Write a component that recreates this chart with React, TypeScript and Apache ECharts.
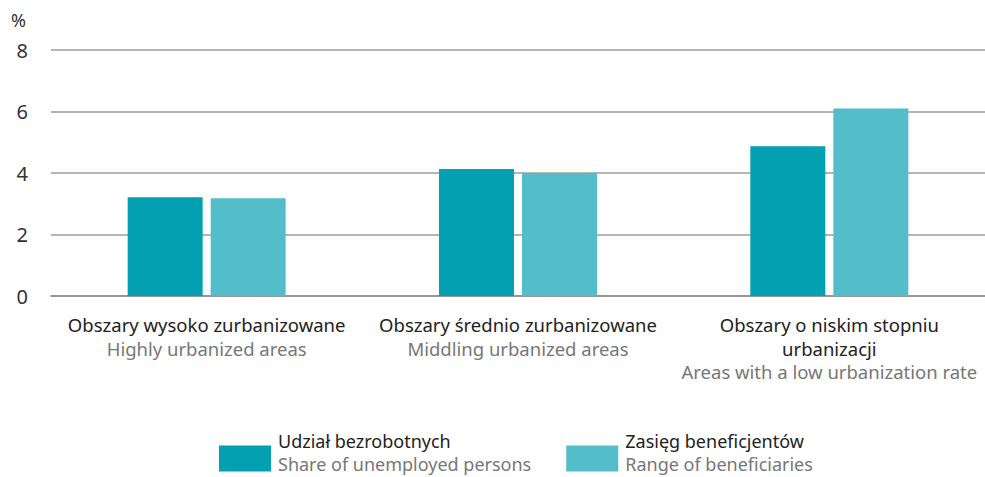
import React, { useEffect, useRef } from "react";
import * as echarts from "echarts";

const categoriesPl = ["Obszary wysoko zurbanizowane", "Obszary średnio zurbanizowane", "Obszary o niskim stopniu\nurbanizacji"];
const categoriesEn = ["Highly urbanized areas", "Middling urbanized areas", "Areas with a low urbanization rate"];
const seriesNamesPl = ["Udział bezrobotnych", "Zasięg beneficjentów"];
const seriesNamesEn = ["Share of unemployed persons", "Range of beneficiaries"];
const shareUnemployed = [3.21, 4.13, 4.87];
const rangeBeneficiaries = [3.18, 4.0, 6.1];
const yTicks = [0, 2, 4, 6, 8];

const FONT = "'Noto Sans', 'Open Sans', sans-serif";

export default function App() {
  const ref = useRef<HTMLDivElement>(null);
  useEffect(() => {
    if (!ref.current) return;
    const chart = echarts.init(ref.current, undefined, { renderer: "svg" });
    const cats = categoriesPl.map((c, i) => c + "||" + categoriesEn[i]);
    chart.setOption({
      animation: false,
      textStyle: { fontFamily: FONT },
      grid: { left: 51, right: -2, top: 50, bottom: 181, containLabel: false },
      graphic: [
        { type: "text", left: 11, top: 11, style: { text: "%", fontSize: 18, fill: "#333", fontFamily: FONT } },
      ],
      legend: {
        left: 219,
        top: 432,
        padding: 0,
        itemWidth: 52,
        itemHeight: 26,
        itemGap: 35,
        icon: "rect",
        data: seriesNamesPl,
        formatter: (name: string) => {
          const i = seriesNamesPl.indexOf(name);
          return "{a|" + name + "}\n{b|" + seriesNamesEn[i] + "}";
        },
        textStyle: {
          padding: [0, 0, 12, 2],
          rich: {
            a: { fontSize: 18, color: "#222", lineHeight: 23, fontFamily: FONT },
            b: { fontSize: 18, color: "#777", lineHeight: 23, fontFamily: FONT },
          },
        },
      },
      xAxis: {
        type: "category",
        data: cats,
        axisTick: { show: false },
        axisLine: { show: true, lineStyle: { color: "#8c8c8c", width: 1.5 } },
        axisLabel: {
          margin: 17,
          interval: 0,
          formatter: (v: string) => {
            const [pl, en] = v.split("||");
            const plLines = pl.split("\n").map((l) => "{a|" + l + "}").join("\n");
            return plLines + "\n{b|" + en + "}";
          },
          rich: {
            a: { fontSize: 18.5, color: "#222", lineHeight: 23.5, fontFamily: FONT },
            b: { fontSize: 18.5, color: "#777", lineHeight: 23.5, fontFamily: FONT },
          },
        },
      },
      yAxis: {
        type: "value",
        min: yTicks[0],
        max: yTicks[yTicks.length - 1],
        interval: 2,
        axisLine: { show: false },
        axisTick: { show: false },
        axisLabel: { fontSize: 20, color: "#333", margin: 23, fontFamily: FONT },
        splitLine: { lineStyle: { color: "#9c9c9c", width: 1.5 } },
      },
      series: [
        {
          name: seriesNamesPl[0],
          type: "bar",
          data: shareUnemployed,
          barWidth: 75,
          barGap: "10.7%",
          itemStyle: { color: "#02A0B1" },
        },
        {
          name: seriesNamesPl[1],
          type: "bar",
          data: rangeBeneficiaries,
          barWidth: 75,
          itemStyle: { color: "#53BDCA" },
        },
      ],
    });
    return () => chart.dispose();
  }, []);
  return <div ref={ref} style={{ width: 985, height: 477, position: "absolute", left: 0, top: 0 }} />;
}
